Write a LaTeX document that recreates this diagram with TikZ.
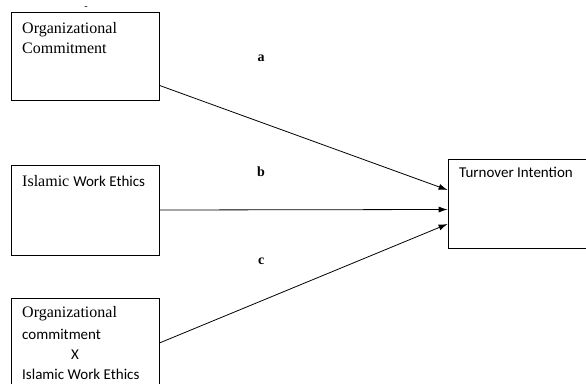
\documentclass[tikz,border=0pt]{standalone}
\usepackage{fontspec}
\setmainfont{Liberation Serif}
\newfontfamily\calibrifont{Carlito}
\usetikzlibrary{arrows.meta,positioning}

\begin{document}
\begin{tikzpicture}[x=1pt, y=-1pt,
    varbox/.style={rectangle, draw, line width=0.8pt, minimum width=148pt, inner sep=0pt},
    boxtext/.style={anchor=base west, align=left, inner sep=0pt, font=\fontsize{16}{20}\selectfont},
    link/.style={-{Latex[length=9pt,width=6pt]}, line width=0.8pt},
    linklabel/.style={font=\bfseries\fontsize{14}{16}\selectfont}
  ]
    \useasboundingbox (0,0) rectangle (586,383);
    % Nodes
    \node (oc) [varbox, minimum height=88pt] at (85,56) {};
    \node (iwe) [varbox, minimum height=90pt] at (85,210) {};
    \node (inter) [varbox, minimum height=100pt] at (85,348) {};
    \node (ti) [varbox, minimum width=142pt, minimum height=89pt] at (519,203.5) {};
    % Texts (anchored on the last line)
    \node (octext) [boxtext] at (22,53) {Organizational\\Commitment};
    \node (iwetext) [boxtext] at (22,186) {Islamic {\calibrifont\fontsize{15}{20}\selectfont Work Ethics}};
    \node (intertext) [boxtext] at (22,379) {Organizational\\[2pt]
      {\calibrifont\fontsize{15}{19}\selectfont commitment}\\
      \hspace*{49pt}{\calibrifont\fontsize{15}{19}\selectfont X}\\
      {\calibrifont\fontsize{15}{19}\selectfont Islamic Work Ethics}};
    \node (titext) [boxtext] at (459,177) {\calibrifont\fontsize{15}{20}\selectfont Turnover Intention};
    \node (tick) at (86,8) {\fontsize{10}{10}\selectfont -};
    % Arrows
    \draw[link] ([yshift=15pt]oc.south east) -- node (a) [linklabel, pos=0.353, above=57pt] {a} ([yshift=13.5pt]ti.west);
    \draw[link] (iwe.east) -- node (b) [linklabel, pos=0.353, above=29pt] {b} ([yshift=-6pt]ti.west);
    \draw[link] ([yshift=5pt]inter.east) -- node (c) [linklabel, pos=0.353, above=33pt] {c} ([yshift=-20.5pt]ti.west);
\end{tikzpicture}
\end{document}
